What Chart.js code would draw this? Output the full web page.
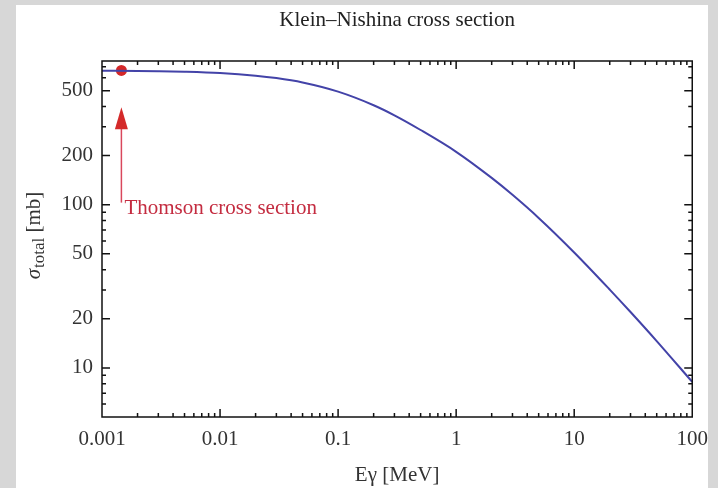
<!DOCTYPE html>
<html><head><meta charset="utf-8">
<script src="https://cdn.jsdelivr.net/npm/chart.js@4.4.1/dist/chart.umd.min.js"></script>
<style>
html,body{margin:0;padding:0;background:#d7d7d7;}
#wrap{position:absolute;left:0;top:0;width:718px;height:488px;}
</style></head><body>
<div id="wrap"><canvas id="c" width="718" height="488"></canvas></div>
<script>
// ---- data ----
const energyMeV = [0.001,0.002,0.003,0.005,0.01,0.02,0.03,0.05,0.1,0.2,0.3,0.5,1,2,3,5,10,20,30,50,100];
const sigmaMb   = [663,660,657.5,652.5,640.5,617.5,597,561,493,407,353,287,211,146,115,83,51,30.2,22,14.6,8.2];
const thomsonE = [0.00146];
const thomsonSigma = [665];
const xTickValues = [0.001,0.01,0.1,1,10,100];
const xTickLabels = ["0.001","0.01","0.1","1","10","100"];
const xMinorTicks = [0.002,0.003,0.004,0.005,0.006,0.007,0.008,0.009,
  0.02,0.03,0.04,0.05,0.06,0.07,0.08,0.09,
  0.2,0.3,0.4,0.5,0.6,0.7,0.8,0.9,
  2,3,4,5,6,7,8,9,
  20,30,40,50,60,70,80,90];
const yTickValues = [10,20,50,100,200,500];
const yTickLabels = ["10","20","50","100","200","500"];
const yMinorTicks = [6,7,8,9,30,40,60,70,80,90,300,400,600,700];
const titleText = "Klein\u2013Nishina cross section";
const xTitleText = "E\u03b3 [MeV]";
const yTitleParts = ["\u03c3", "total", " [mb]"];
const annotationText = "Thomson cross section";
const arrowE = 0.00146, arrowTipSigma = 395, arrowTailSigma = 103, annotationSigma = 95;

const SERIF = '"Liberation Serif", "Times New Roman", serif';
Chart.defaults.font.family = SERIF;

const decorPlugin = {
  id: 'decor',
  beforeDraw(chart) {
    const ctx = chart.ctx;
    ctx.save();
    ctx.fillStyle = '#d7d7d7';
    ctx.fillRect(0, 0, chart.width, chart.height);
    ctx.fillStyle = '#ffffff';
    ctx.fillRect(16, 5, 692, 483);
    ctx.restore();
  },
  afterDatasetsDraw(chart) {
    const ctx = chart.ctx;
    const {left, right, top, bottom} = chart.chartArea;
    const xs = chart.scales.x, ys = chart.scales.y;
    ctx.save();
    ctx.strokeStyle = '#111';
    ctx.lineWidth = 1.5;
    ctx.beginPath();
    const tick = (vals, len) => {
      vals.forEach(v => {
        const px = xs.getPixelForValue(v);
        if (px > left + 1 && px < right - 1) {
          ctx.moveTo(px, bottom); ctx.lineTo(px, bottom - len);
          ctx.moveTo(px, top); ctx.lineTo(px, top + len);
        }
      });
    };
    const ytick = (vals, len) => {
      vals.forEach(v => {
        const py = ys.getPixelForValue(v);
        if (py > top + 1 && py < bottom - 1) {
          ctx.moveTo(left, py); ctx.lineTo(left + len, py);
          ctx.moveTo(right, py); ctx.lineTo(right - len, py);
        }
      });
    };
    tick(xTickValues, 8); tick(xMinorTicks, 4);
    ytick(yTickValues, 8); ytick(yMinorTicks, 4);
    ctx.stroke();
    ctx.strokeRect(left, top, right - left, bottom - top);

    // arrow annotation
    const ax = xs.getPixelForValue(arrowE);
    const tipY = ys.getPixelForValue(arrowTipSigma);
    const tailY = ys.getPixelForValue(arrowTailSigma);
    ctx.strokeStyle = '#d9475c';
    ctx.lineWidth = 1.5;
    ctx.beginPath();
    ctx.moveTo(ax, tailY); ctx.lineTo(ax, tipY + 18);
    ctx.stroke();
    ctx.fillStyle = '#d42a2a';
    ctx.beginPath();
    ctx.moveTo(ax, tipY);
    ctx.lineTo(ax - 6.5, tipY + 22);
    ctx.lineTo(ax + 6.5, tipY + 22);
    ctx.closePath();
    ctx.fill();
    ctx.font = '21px ' + SERIF;
    ctx.fillStyle = '#c42c40';
    ctx.textBaseline = 'middle';
    ctx.textAlign = 'left';
    ctx.fillText(annotationText, ax + 3, ys.getPixelForValue(annotationSigma));

    // y-axis title with subscript
    ctx.translate(33, 236);
    ctx.rotate(-Math.PI / 2);
    const f1 = 'italic 21px ' + SERIF, f2 = '17px ' + SERIF, f3 = '21px ' + SERIF;
    ctx.font = f1; const w1 = ctx.measureText(yTitleParts[0]).width;
    ctx.font = f2; const w2 = ctx.measureText(yTitleParts[1]).width;
    ctx.font = f3; const w3 = ctx.measureText(yTitleParts[2]).width;
    let x = -(w1 + w2 + w3) / 2;
    ctx.fillStyle = '#333';
    ctx.textBaseline = 'alphabetic';
    ctx.font = f1; ctx.fillText(yTitleParts[0], x, 7); x += w1 + 1;
    ctx.font = f2; ctx.fillText(yTitleParts[1], x, 11); x += w2;
    ctx.font = f3; ctx.fillText(yTitleParts[2], x, 7);
    ctx.restore();
  }
};

new Chart(document.getElementById('c'), {
  type: 'line',
  data: {
    datasets: [
      {
        label: 'Klein-Nishina',
        data: energyMeV.map((e, i) => ({x: e, y: sigmaMb[i]})),
        borderColor: '#4343a8',
        borderWidth: 2,
        pointRadius: 0,
        cubicInterpolationMode: 'monotone',
        fill: false
      },
      {
        label: 'Thomson',
        type: 'scatter',
        data: thomsonE.map((e, i) => ({x: e, y: thomsonSigma[i]})),
        backgroundColor: '#d42828',
        borderColor: '#d42828',
        pointRadius: 5.5,
        pointBorderWidth: 0
      }
    ]
  },
  options: {
    responsive: false,
    animation: false,
    devicePixelRatio: 1,
    layout: {padding: {left: 0, right: 22, top: 0, bottom: 0}},
    plugins: {
      legend: {display: false},
      tooltip: {enabled: false},
      title: {
        display: true,
        text: titleText,
        fullSize: false,
        color: '#222',
        font: {size: 21, weight: 'normal', family: SERIF, lineHeight: 1.2},
        padding: {top: 7.4, bottom: 28.4}
      }
    },
    scales: {
      x: {
        type: 'logarithmic',
        position: 'bottom',
        min: 0.001, max: 100,
        afterFit: s => { s.height = 71; },
        afterBuildTicks: s => { s.ticks = xTickValues.map(v => ({value: v})); },
        grid: {display: false, drawTicks: false},
        border: {display: false},
        ticks: {
          autoSkip: false, maxRotation: 0, padding: 10,
          color: '#333', font: {size: 21, family: SERIF},
          callback: (v) => { const i = xTickValues.indexOf(v); return i >= 0 ? xTickLabels[i] : ''; }
        },
        title: {
          display: true, text: xTitleText, color: '#333',
          font: {size: 21, family: SERIF, lineHeight: 1.2},
          padding: {top: 2.4, bottom: 0}
        }
      },
      y: {
        type: 'logarithmic',
        position: 'left',
        min: 5, max: 760,
        afterFit: s => { s.width = 102; },
        afterBuildTicks: s => { s.ticks = yTickValues.map(v => ({value: v})); },
        grid: {display: false, drawTicks: false},
        border: {display: false},
        ticks: {
          autoSkip: false, padding: 9,
          color: '#333', font: {size: 21, family: SERIF},
          callback: (v) => { const i = yTickValues.indexOf(v); return i >= 0 ? yTickLabels[i] : ''; }
        }
      }
    }
  },
  plugins: [decorPlugin]
});
</script>
</body></html>
